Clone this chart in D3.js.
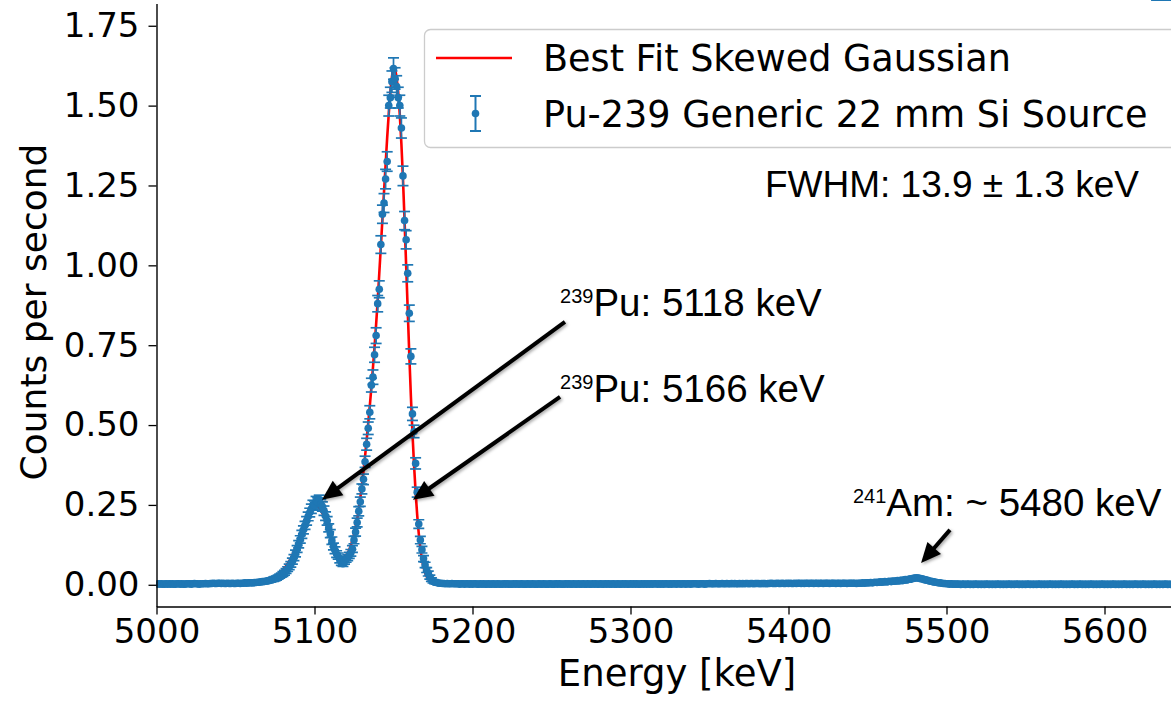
<!DOCTYPE html>
<html><head><meta charset="utf-8">
<script src="https://cdn.jsdelivr.net/npm/d3@7"></script>
<style>body{margin:0;background:#fff}</style>
</head><body><svg id="chart" width="1171" height="706"></svg>
<script>
// ---------------- DATA ----------------
const binStartKeV = 5000;
const binWidthKeV = 1;
// counts per second, one value per 1 keV bin
const countsLowTail = [ // 5000-5069
.002,.003,.002,.003,.002,.002,.003,.002,.003,.002,
.003,.002,.002,.003,.003,.002,.003,.002,.002,.003,
.003,.003,.002,.003,.004,.003,.003,.002,.003,.003,
.003,.004,.003,.003,.004,.004,.005,.004,.004,.005,
.005,.004,.005,.004,.004,.005,.004,.004,.005,.004,
.004,.005,.005,.004,.005,.005,.006,.005,.006,.006,
.006,.006,.007,.007,.008,.008,.009,.010,.010,.011];
const countsPuPeaks = [ // 5070-5180
.012,.013,.014,.016,.017,.019,.021,.024,.027,.030,
.034,.038,.043,.049,.056,.064,.074,.085,.098,.112,
.127,.142,.158,.172,.186,.200,.214,.226,.238,.250,
.248,.262,.258,.266,.252,.245,.232,.215,.200,.178,
.160,.138,.120,.108,.096,.090,.078,.070,.066,.074,
.080,.085,.092,.100,.112,.140,.165,.195,.230,.260,
.300,.330,.385,.440,.490,.540,.625,.650,.720,.780,
.880,.925,1.065,1.160,1.195,1.270,1.325,1.500,1.525,1.575,
1.616,1.585,1.560,1.525,1.500,1.430,1.280,1.140,1.080,.975,
.850,.715,.535,.480,.380,.290,.190,.140,.110,.082,
.062,.046,.035,.024,.016,.011,.008,.007,.006,.005,.005];
const countsMidFlat = [ // 5181-5440
.004,.004,.003,.004,.003,.003,.004,.003,.003,.003,
.003,.002,.003,.003,.002,.003,.003,.002,.003,.002,
.003,.003,.002,.002,.003,.002,.003,.002,.002,.003,
.002,.002,.003,.002,.002,.003,.002,.002,.002,.003,
.002,.003,.002,.002,.002,.003,.002,.003,.002,.002,
.003,.002,.002,.002,.003,.002,.002,.003,.002,.002,
.002,.003,.002,.002,.003,.002,.002,.002,.003,.002,
.002,.002,.003,.002,.003,.002,.002,.002,.003,.002,
.003,.002,.002,.003,.002,.002,.003,.002,.002,.003,
.002,.002,.003,.002,.002,.003,.002,.003,.002,.002,
.003,.002,.002,.003,.002,.003,.002,.002,.003,.002,
.002,.003,.002,.002,.003,.002,.003,.002,.002,.003,
.002,.003,.002,.003,.002,.002,.003,.002,.003,.002,
.003,.002,.003,.002,.003,.003,.002,.003,.002,.003,
.002,.003,.003,.002,.003,.002,.003,.003,.002,.003,
.003,.002,.003,.003,.002,.003,.003,.002,.003,.003,
.003,.003,.002,.003,.003,.003,.002,.003,.003,.004,
.003,.003,.003,.004,.003,.003,.003,.004,.003,.003,
.004,.003,.003,.004,.003,.004,.003,.003,.004,.003,
.004,.003,.004,.004,.003,.004,.004,.003,.004,.004,
.004,.003,.004,.004,.004,.003,.004,.004,.005,.004,
.004,.004,.005,.004,.004,.005,.004,.004,.005,.004,
.005,.004,.004,.005,.004,.005,.005,.004,.005,.004,
.005,.005,.004,.005,.005,.004,.005,.005,.004,.005,
.005,.004,.005,.005,.005,.004,.005,.005,.005,.004,
.005,.005,.004,.005,.005,.005,.004,.005,.005,.005];
const countsAmTail = [ // 5441-5642
.005,.005,.004,.005,.005,.005,.006,.005,.006,.006,
.006,.007,.006,.007,.008,.007,.008,.009,.008,.009,
.010,.009,.010,.011,.010,.012,.011,.012,.013,.012,
.014,.013,.015,.016,.015,.017,.018,.019,.020,.021,
.022,.021,.020,.019,.018,.016,.015,.014,.012,.011,
.010,.009,.008,.007,.006,.006,.005,.004,.004,.003,
.003,.002,.003,.002,.002,.002,.002,.002,.001,.002,
.002,.001,.002,.002,.001,.002,.001,.002,.002,.001,
.002,.001,.002,.001,.002,.002,.001,.002,.001,.002,
.001,.002,.002,.001,.002,.001,.002,.001,.002,.002,
.001,.002,.001,.002,.002,.001,.002,.001,.002,.001,
.002,.002,.001,.002,.001,.002,.001,.002,.002,.001,
.002,.001,.002,.001,.002,.002,.001,.002,.001,.002,
.001,.002,.002,.001,.002,.001,.002,.001,.002,.002,
.001,.002,.001,.002,.002,.001,.002,.001,.002,.001,
.002,.002,.001,.002,.001,.002,.001,.002,.002,.001,
.002,.001,.002,.001,.002,.002,.001,.002,.001,.002,
.001,.002,.002,.001,.002,.001,.002,.001,.002,.002,
.001,.002,.001,.002,.002,.001,.002,.001,.002,.001,
.002,.002,.001,.002,.001,.002,.001,.002,.002,.001,
.002,.001];
// statistical uncertainty, in thousandths of counts per second
const errMilliLowTail = [
1,1,1,1,1,1,1,1,1,1, 1,1,1,1,1,1,1,1,1,1, 1,1,1,1,2,1,1,1,1,1,
1,2,1,1,2,2,2,2,2,2, 2,2,2,2,2,2,2,2,2,2, 2,2,2,2,2,2,2,2,2,2,
2,2,2,2,2,2,3,3,3,3];
const errMilliPuPeaks = [
3,3,3,3,4,4,4,4,4,4, 5,5,5,5,6,6,7,7,8,8, 9,9,10,10,10,11,11,11,12,12,
12,12,12,12,12,12,12,11,11,10, 10,9,8,8,8,7,7,7,6,7, 7,7,7,8,8,9,10,11,12,12,
13,14,15,16,17,18,19,20,21,22, 23,24,25,26,27,28,28,30,30,31,
31,31,31,30,30,29,28,26,26,24, 23,21,18,17,15,13,11,9,8,7,
6,5,5,4,3,3,2,2,2,2,2];
const errMilliMidFlat = [
2,2,1,2,1,1,2,1,1,1, 1,1,1,1,1,1,1,1,1,1,
1,1,1,1,1,1,1,1,1,1, 1,1,1,1,1,1,1,1,1,1, 1,1,1,1,1,1,1,1,1,1,
1,1,1,1,1,1,1,1,1,1, 1,1,1,1,1,1,1,1,1,1, 1,1,1,1,1,1,1,1,1,1,
1,1,1,1,1,1,1,1,1,1, 1,1,1,1,1,1,1,1,1,1, 1,1,1,1,1,1,1,1,1,1,
1,1,1,1,1,1,1,1,1,1, 1,1,1,1,1,1,1,1,1,1, 1,1,1,1,1,1,1,1,1,1,
1,1,1,1,1,1,1,1,1,1, 1,1,1,1,1,1,1,1,1,2, 1,1,1,2,1,1,1,2,1,1,
2,1,1,2,1,2,1,1,2,1, 2,1,2,2,1,2,2,1,2,2, 2,1,2,2,2,1,2,2,2,2,
2,2,2,2,2,2,2,2,2,2, 2,2,2,2,2,2,2,2,2,2, 2,2,2,2,2,2,2,2,2,2,
2,2,2,2,2,2,2,2,2,2, 2,2,2,2,2,2,2,2,2,2];
const errMilliAmTail = [
2,2,2,2,2,2,2,2,2,2, 2,2,2,2,2,2,2,3,2,3, 3,3,3,3,3,3,3,3,3,3,
3,3,3,3,3,4,4,4,4,4, 4,4,4,4,4,3,3,3,3,3, 3,3,2,2,2,2,2,2,2,1,
1,1,1,1,1,1,1,1,1,1, 1,1,1,1,1,1,1,1,1,1, 1,1,1,1,1,1,1,1,1,1,
1,1,1,1,1,1,1,1,1,1, 1,1,1,1,1,1,1,1,1,1, 1,1,1,1,1,1,1,1,1,1,
1,1,1,1,1,1,1,1,1,1, 1,1,1,1,1,1,1,1,1,1, 1,1,1,1,1,1,1,1,1,1,
1,1,1,1,1,1,1,1,1,1, 1,1,1,1,1,1,1,1,1,1, 1,1,1,1,1,1,1,1,1,1,
1,1,1,1,1,1,1,1,1,1, 1,1,1,1,1,1,1,1,1,1,
1,1];
// best-fit skewed Gaussian, sampled every 1 keV from 5040 keV
const fitStartKeV = 5040;
const fitValues = [
.003,.003,.003,.003,.003,.003,.003,.003,.003,.003,
.003,.003,.003,.004,.004,.004,.004,.004,.004,.004,
.004,.005,.005,.006,.007,.008,.009,.010,.012,.013,
.015,.017,.019,.021,.024,.027,.030,.034,.038,.042,
.047,.053,.059,.066,.074,.083,.093,.104,.116,.129,
.143,.157,.171,.185,.198,.210,.221,.230,.237,.242,
.245,.246,.244,.240,.233,.224,.212,.198,.183,.167,
.151,.136,.122,.110,.100,.093,.088,.086,.086,.088,
.093,.100,.110,.123,.139,.158,.180,.205,.235,.272,
.312,.355,.402,.452,.505,.560,.618,.680,.745,.815,
.890,.975,1.060,1.145,1.230,1.315,1.400,1.475,1.540,1.590,
1.615,1.612,1.585,1.540,1.470,1.380,1.270,1.140,1.000,.860,
.720,.590,.475,.375,.290,.218,.160,.115,.081,.056,
.038,.026,.017,.011,.007,.005,.004,.003,.003,.003,
.003,.003,.003,.003,.003,.003,.003,.003,.003,.003,
.003,.003,.003,.003,.003,.003,.003,.003,.003,.003,.003];
const xTickValues = [5000, 5100, 5200, 5300, 5400, 5500, 5600];
const yTickValues = [0, 0.25, 0.5, 0.75, 1.0, 1.25, 1.5, 1.75];
const xAxisTitle = "Energy [keV]";
const yAxisTitle = "Counts per second";
const legendLabels = ["Best Fit Skewed Gaussian", "Pu-239 Generic 22 mm Si Source"];
const fwhmText = "FWHM: 13.9 \u00B1 1.3 keV";
// annotation labels: [superscript, text, label anchor E, label anchor cps]
const annoLabels = [
  ["239", "Pu: 5118 keV", 5255.4, 0.842],
  ["239", "Pu: 5166 keV", 5255.4, 0.572],
  ["241", "Am: ~ 5480 keV", 5440.8, 0.215]
];
// arrows: [tail E, tail cps, tip E, tip cps]
const arrowSpecs = [
  [5258.5, 0.823, 5104.7, 0.266],
  [5255.4, 0.588, 5162.3, 0.266],
  [5502.2, 0.172, 5483.9, 0.068]
];
const fwhmAnchor = [5385.1, 1.214];

// ---------------- CHART ----------------
const counts = [].concat(countsLowTail, countsPuPeaks, countsMidFlat, countsAmTail);
const errMilli = [].concat(errMilliLowTail, errMilliPuPeaks, errMilliMidFlat, errMilliAmTail);
const points = counts.map((v, i) => ({E: binStartKeV + i * binWidthKeV, v, err: errMilli[i] / 1000}));
const fit = fitValues.map((v, i) => ({E: fitStartKeV + i, v}));

const svg = d3.select("#chart");
const W = 1171, H = 706;
svg.append("rect").attr("width", W).attr("height", H).attr("fill", "#fff");

const plotLeft = 156.5, plotBottom = 606.5, plotTop = 3.4;
const x = d3.scaleLinear().domain([5000, 5650]).range([plotLeft, plotLeft + 650 * 1.58]);
const y = d3.scaleLinear().domain([-0.068, 1.82]).range([plotBottom, plotTop]);
const BLUE = "#1f77b4";
const dejavu = "'DejaVu Sans', sans-serif";
const arial = "'Liberation Sans', Arial, sans-serif";

const defs = svg.append("defs");
defs.append("clipPath").attr("id", "plotclip").append("rect")
  .attr("x", plotLeft).attr("y", 0).attr("width", W - plotLeft + 50).attr("height", plotBottom);
const sh = defs.append("filter").attr("id", "shadow").attr("x", "-20%").attr("y", "-20%").attr("width", "140%").attr("height", "140%");
sh.append("feDropShadow").attr("dx", 1.5).attr("dy", 1.5).attr("stdDeviation", 1.5).attr("flood-color", "#000").attr("flood-opacity", 0.35);

const plot = svg.append("g").attr("clip-path", "url(#plotclip)");

// fit line
plot.append("path").datum(fit)
  .attr("d", d3.line().x(d => x(d.E)).y(d => y(d.v)).curve(d3.curveMonotoneX))
  .attr("fill", "none").attr("stroke", "#ff0000").attr("stroke-width", 2.6);

// error bars
const cap = 5.5;
const eb = plot.append("g").attr("stroke", BLUE).attr("stroke-width", 1.7);
eb.selectAll("line.v").data(points).join("line").attr("class", "v")
  .attr("x1", d => x(d.E)).attr("x2", d => x(d.E))
  .attr("y1", d => y(d.v - d.err) + 0.8).attr("y2", d => y(d.v + d.err) - 0.8);
eb.selectAll("line.t").data(points).join("line").attr("class", "t")
  .attr("x1", d => x(d.E) - cap).attr("x2", d => x(d.E) + cap)
  .attr("y1", d => y(d.v + d.err) - 0.8).attr("y2", d => y(d.v + d.err) - 0.8);
eb.selectAll("line.b").data(points).join("line").attr("class", "b")
  .attr("x1", d => x(d.E) - cap).attr("x2", d => x(d.E) + cap)
  .attr("y1", d => y(d.v - d.err) + 0.8).attr("y2", d => y(d.v - d.err) + 0.8);
plot.append("g").selectAll("circle").data(points).join("circle")
  .attr("cx", d => x(d.E)).attr("cy", d => y(d.v)).attr("r", 3.8).attr("fill", BLUE);

// axes
const xAxis = svg.append("g").attr("transform", `translate(0,${plotBottom})`)
  .call(d3.axisBottom(x).tickValues(xTickValues).tickFormat(d3.format("d")).tickSize(8).tickSizeOuter(0).tickPadding(4));
const yAxis = svg.append("g").attr("transform", `translate(${plotLeft},0)`)
  .call(d3.axisLeft(y).tickValues(yTickValues).tickFormat(d3.format(".2f")).tickSize(8).tickSizeOuter(0).tickPadding(9));
[xAxis, yAxis].forEach(g => {
  g.select(".domain").attr("stroke", "#000").attr("stroke-width", 1.4);
  g.selectAll(".tick line").attr("stroke", "#000").attr("stroke-width", 1.3);
  g.selectAll(".tick text").attr("fill", "#000").style("font-family", dejavu).style("font-size", "34px");
});

svg.append("text").attr("x", 677).attr("y", 686).attr("text-anchor", "middle")
  .style("font-family", dejavu).style("font-size", "37px").attr("fill", "#000").text(xAxisTitle);
svg.append("text").attr("transform", "translate(46,312) rotate(-90)").attr("text-anchor", "middle")
  .style("font-family", dejavu).style("font-size", "36px").attr("fill", "#000").text(yAxisTitle);

// legend
const lg = svg.append("g");
lg.append("rect").attr("x", 424.5).attr("y", 29.5).attr("width", 800).attr("height", 118).attr("rx", 6)
  .attr("fill", "#fff").attr("fill-opacity", 0.8).attr("stroke", "#cccccc").attr("stroke-width", 1.3);
lg.append("line").attr("x1", 436).attr("x2", 512).attr("y1", 58).attr("y2", 58).attr("stroke", "#ff0000").attr("stroke-width", 2.6);
lg.append("line").attr("x1", 475.5).attr("x2", 475.5).attr("y1", 96).attr("y2", 131).attr("stroke", BLUE).attr("stroke-width", 2);
[96, 131].forEach(cy => lg.append("line").attr("x1", 470).attr("x2", 481).attr("y1", cy).attr("y2", cy).attr("stroke", BLUE).attr("stroke-width", 2));
lg.append("circle").attr("cx", 475.5).attr("cy", 113.5).attr("r", 3.8).attr("fill", BLUE);
legendLabels.forEach((t, i) => lg.append("text").attr("x", 543).attr("y", 71 + i * 55.5)
  .style("font-family", dejavu).style("font-size", "36.6px").attr("fill", "#000").text(t));

// annotations
svg.append("text").attr("x", x(fwhmAnchor[0])).attr("y", y(fwhmAnchor[1]))
  .style("font-family", arial).style("font-size", "37px").attr("fill", "#000").text(fwhmText);
annoLabels.forEach(([sup, txt, e, v]) => {
  const t = svg.append("text").attr("x", x(e)).attr("y", y(v)).style("font-family", arial).attr("fill", "#000");
  t.append("tspan").style("font-size", "20px").attr("dy", -13).text(sup);
  t.append("tspan").style("font-size", "38.5px").attr("dy", 13).text(txt);
});
const ag = svg.append("g").attr("filter", "url(#shadow)");
arrowSpecs.forEach(([e0, v0, e1, v1]) => {
  const x0 = x(e0), y0 = y(v0), x1 = x(e1), y1 = y(v1);
  const dx = x1 - x0, dy = y1 - y0, L = Math.hypot(dx, dy), ux = dx / L, uy = dy / L;
  const hl = 20, hw = 9;
  const bx = x1 - ux * hl, by = y1 - uy * hl;
  ag.append("line").attr("x1", x0).attr("y1", y0).attr("x2", bx + ux * 2).attr("y2", by + uy * 2)
    .attr("stroke", "#000").attr("stroke-width", 4);
  ag.append("polygon").attr("points", [[x1, y1], [bx - uy * hw, by + ux * hw], [bx + uy * hw, by - ux * hw]].map(p => p.join(",")).join(" "))
    .attr("fill", "#000");
});
</script></body></html>
